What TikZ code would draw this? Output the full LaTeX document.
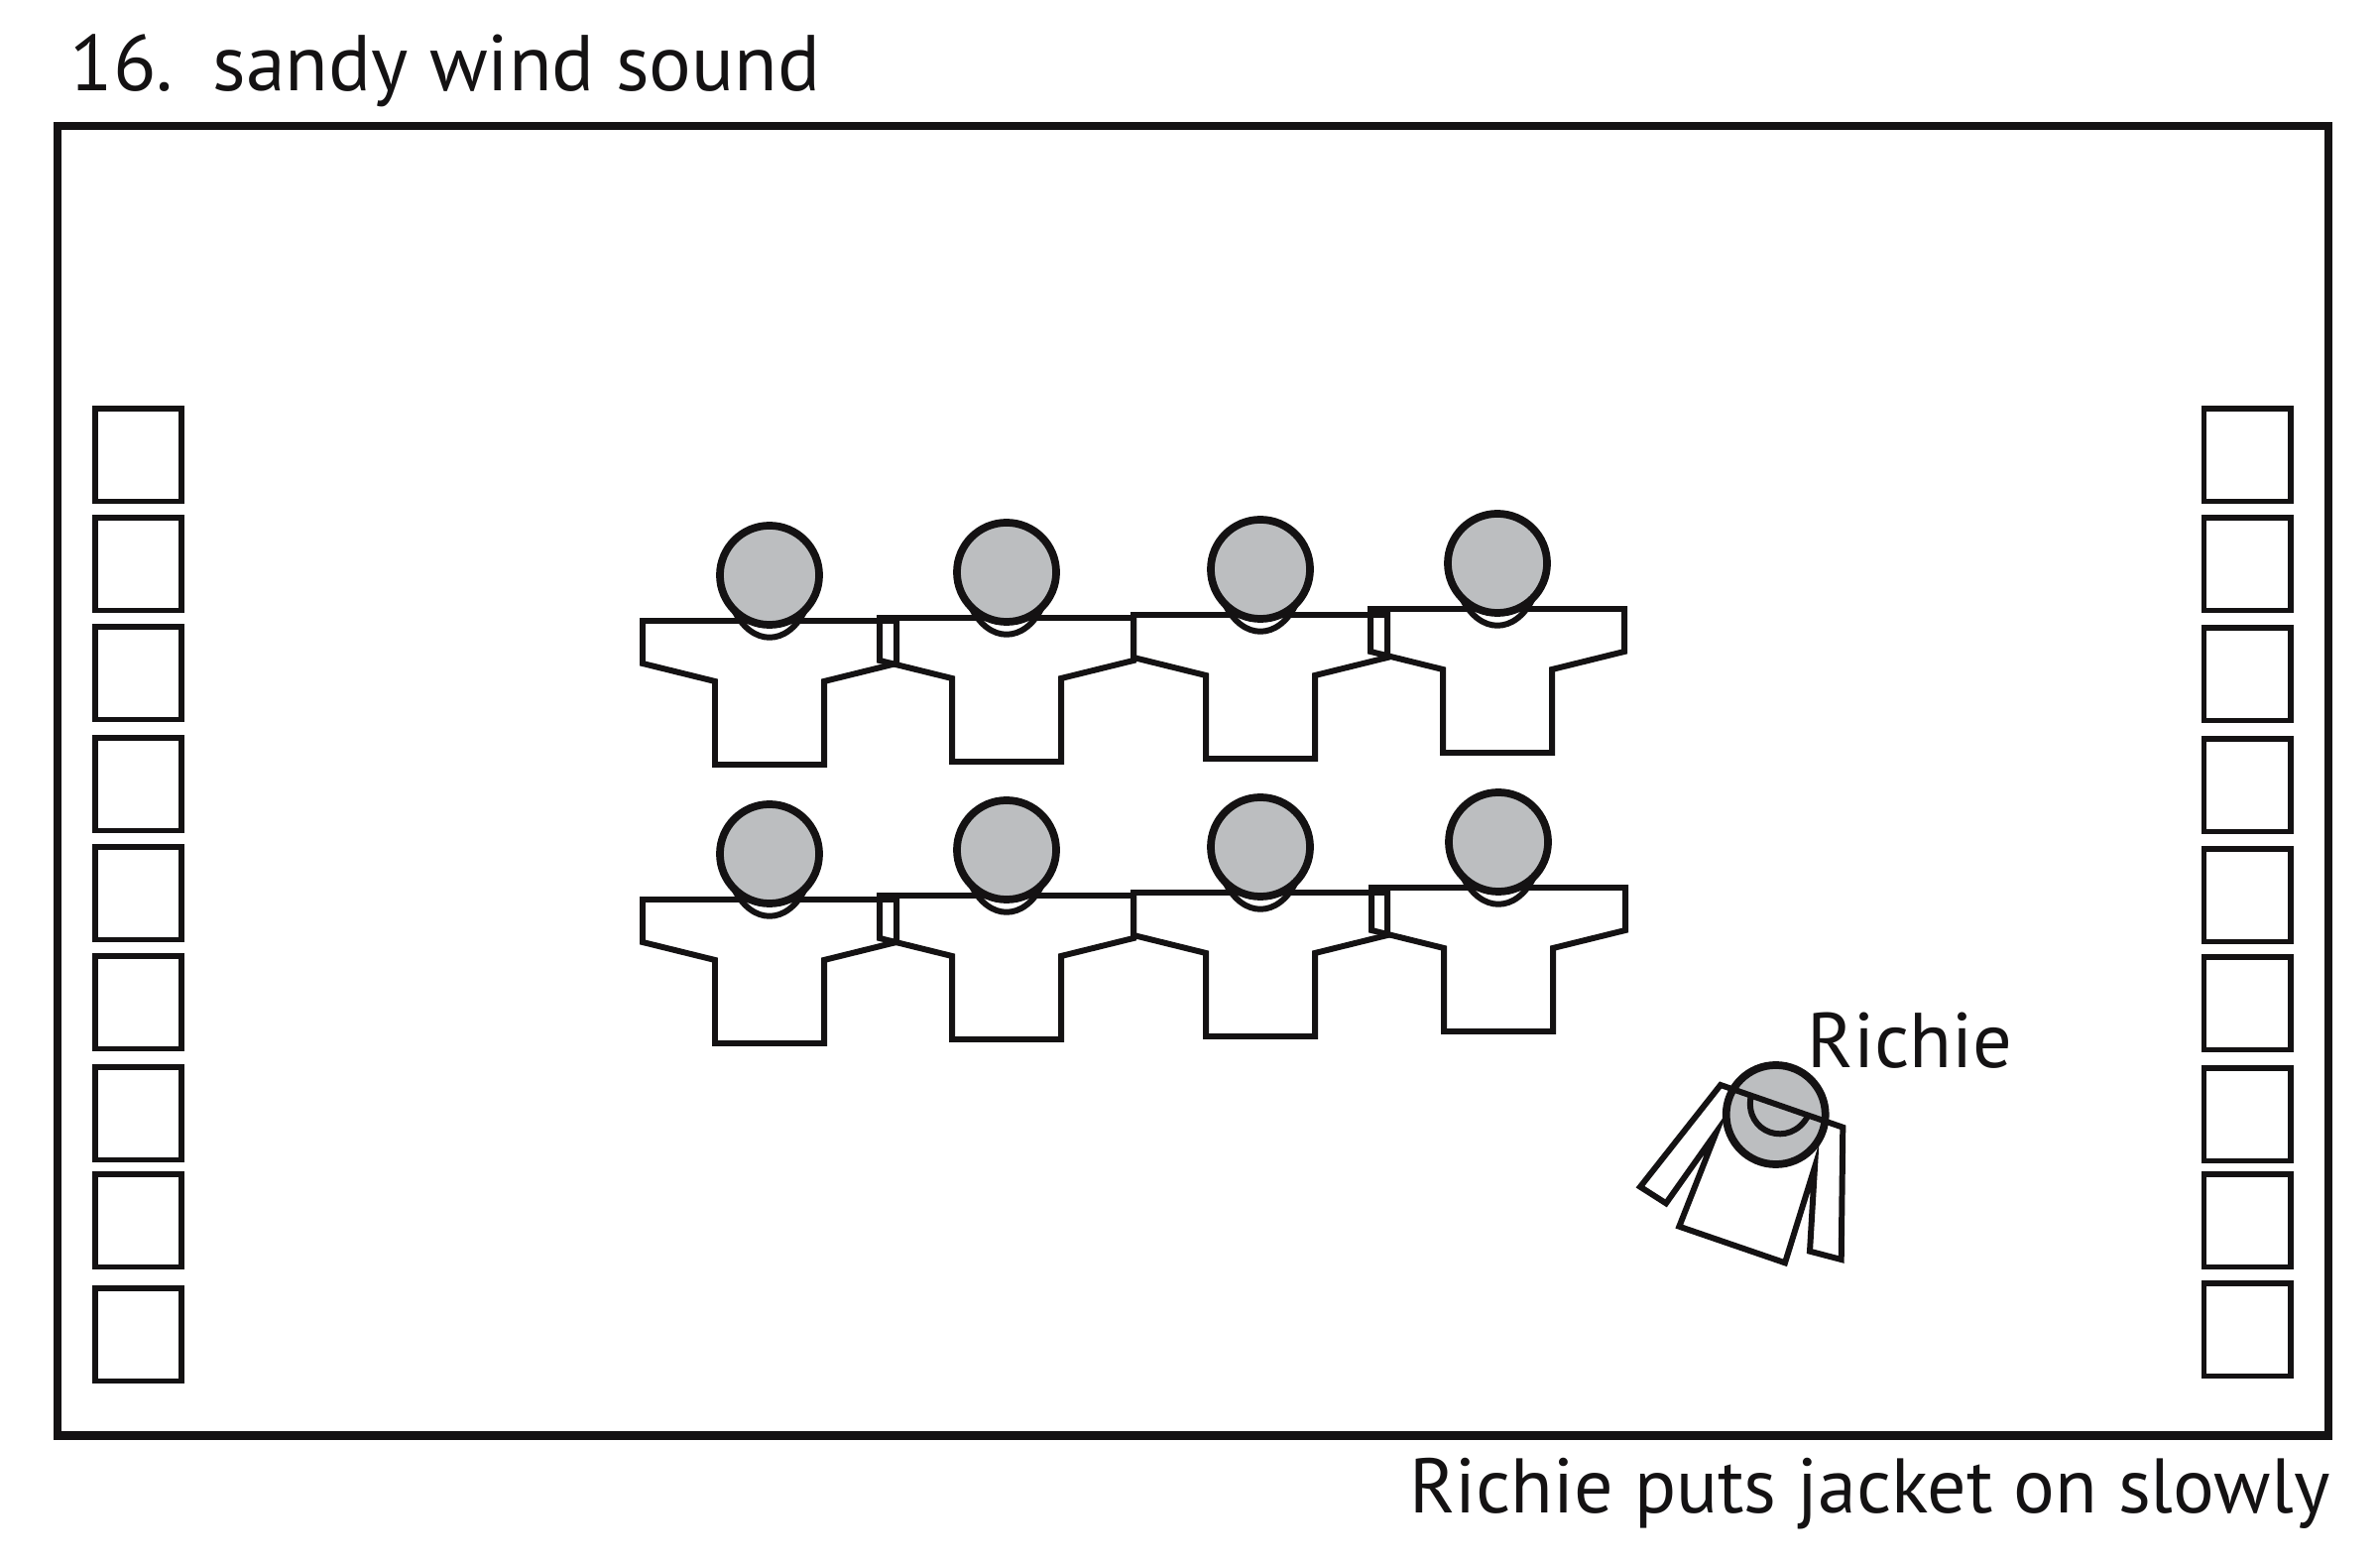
\documentclass[tikz,border=0pt]{standalone}
\usepackage{fontspec}
\setmainfont{PT Sans}
\definecolor{headgray}{RGB}{188,190,192}
\definecolor{ink}{RGB}{20,18,19}
\tikzset{
  body/.style={line width=1.7pt, line join=miter, draw=ink},
  headc/.style={line width=2.2pt, draw=ink, fill=headgray},
  seat/.style={line width=1.6pt, draw=ink},
  framebox/.style={line width=2.3pt, draw=ink},
  lbl/.style={inner sep=0pt, text=ink},
}
\newcommand\person[2]{%
  \begin{scope}[shift={(#1,#2)}]
    \draw[body] (-128,46) -- (128,46) -- (128,89) -- (55,107) -- (55,191)
      -- (-55,191) -- (-55,107) -- (-128,89) -- cycle;
    \draw[body] (-36,35) .. controls (-18,72) and (18,72) .. (36,35);
    \draw[headc] (0,0) circle[radius=0.5cm];
  \end{scope}}
\begin{document}
\begin{tikzpicture}[x=0.01cm, y=-0.01cm]
  \useasboundingbox[fill=white] (0,0) rectangle (2400,1577);
  % title and caption
  \node[lbl, anchor=base west, font=\fontsize{22.7pt}{27pt}\selectfont] (title) at (70,91.7) {16.\hspace{0.5em}sandy wind sound};
  \node[lbl, anchor=base east, font=\fontsize{22.2pt}{27pt}\selectfont] (caption) at (2350,1525) {Richie puts jacket on slowly};
  % frame
  \draw[framebox] (58.3,127.3) rectangle (2348.3,1447.5);
  % seats
  \foreach \t in {412,522,632,744,854,964,1076,1184,1299}
    \draw[seat] (96.3,\t) rectangle (183.3,\t+93.5);
  \foreach \t in {412,522,633,745,856,965,1077,1184,1294}
    \draw[seat] (2222.3,\t) rectangle (2310,\t+93.5);
  % rows of people
  \person{776}{580}
  \person{1015}{577}
  \person{1271}{574}
  \person{1510}{568}
  \person{776}{861}
  \person{1015}{857}
  \person{1271}{854}
  \person{1511}{849}
  % Richie
  \draw[headc] (1790.7,1124) circle[radius=0.5cm];
  \draw[body] (1735,1094) -- (1858.3,1136.7) -- (1856.7,1270) -- (1825,1261.7)
    -- (1830,1176.7) -- (1800,1273.3) -- (1693.3,1236.7) -- (1730.7,1141.7)
    -- (1680,1213.3) -- (1654,1196.7) -- cycle;
  \begin{scope}[shift={(1795,1115)}, rotate=-19.1]
    \draw[body] (-31,0) .. controls (-26,38) and (24,38) .. (30,0);
  \end{scope}
  \node[lbl, anchor=base west, font=\fontsize{22.3pt}{26pt}\selectfont] (richie) at (1822,1076.7) {Richie};
\end{tikzpicture}
\end{document}
